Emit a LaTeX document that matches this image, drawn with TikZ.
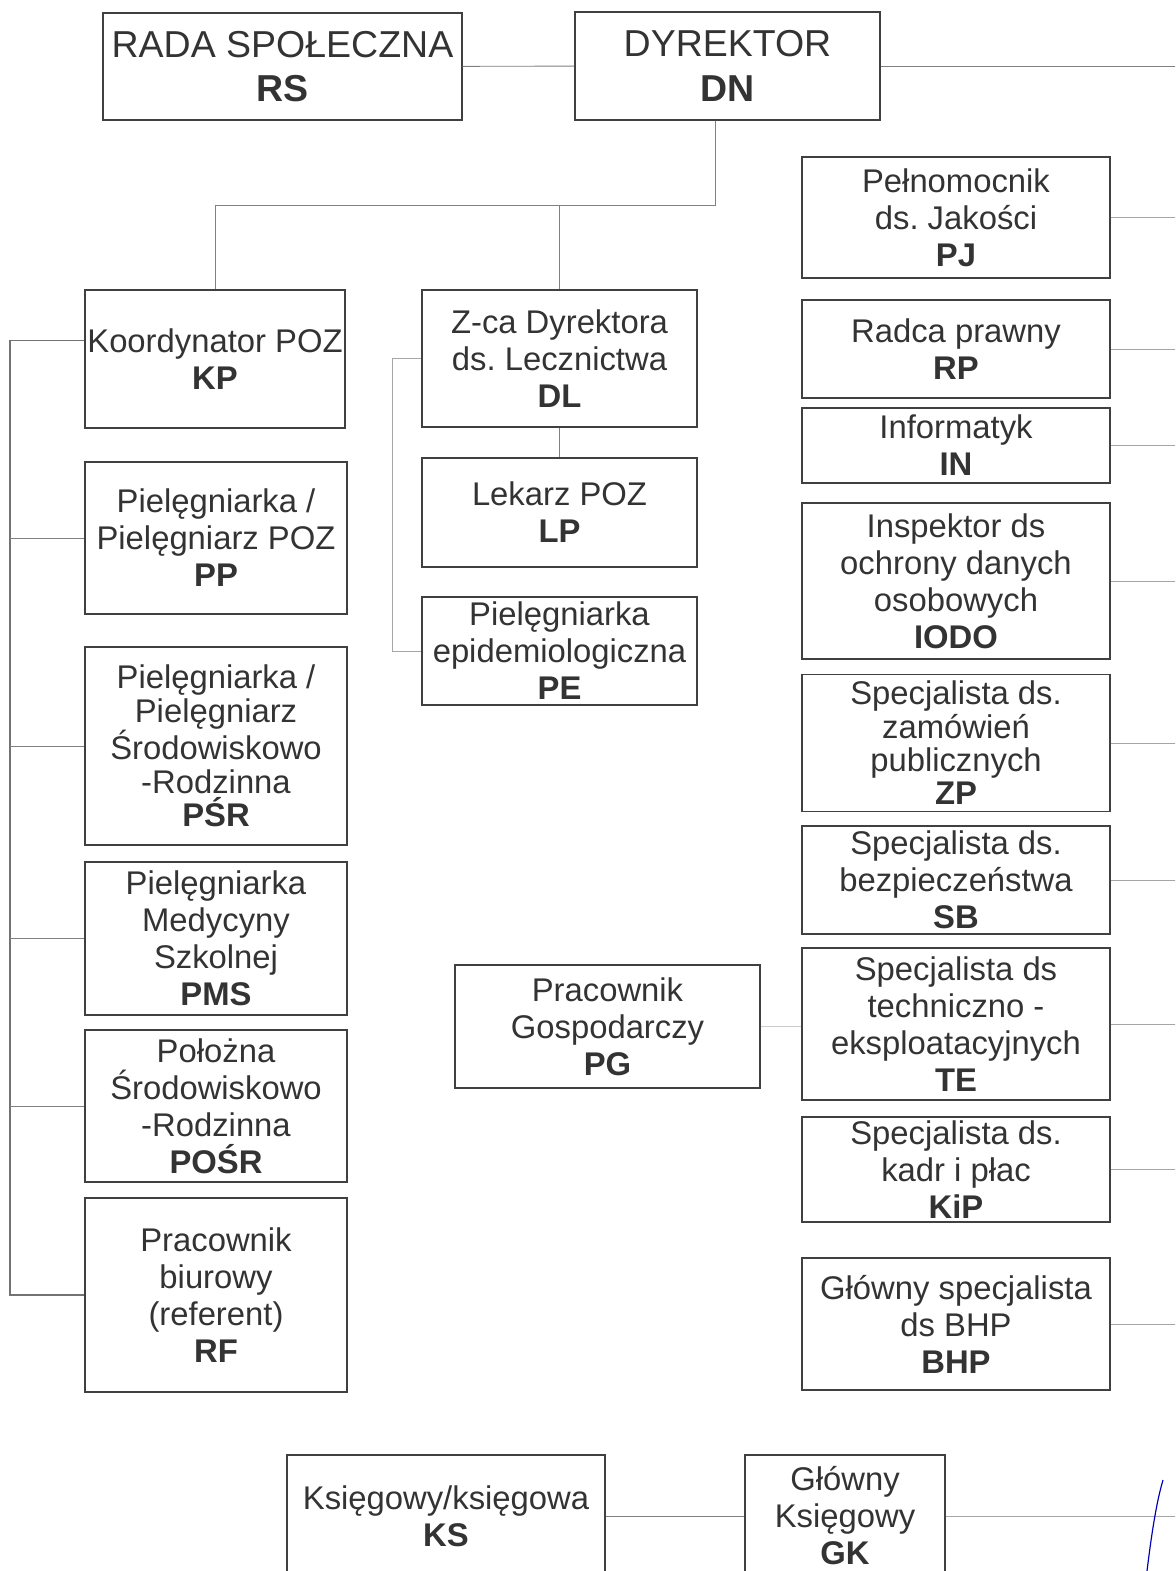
\documentclass[tikz,border=0pt]{standalone}
\usepackage{fontspec}
\setmainfont{Liberation Sans}
\usetikzlibrary{positioning}
\frenchspacing

\tikzstyle{org}=[draw=black!75, line width=0.9pt, align=center, inner sep=0pt,
    text=black!80, font=\fontsize{28}{31.6}\selectfont]
\tikzstyle{toprow}=[font=\fontsize{32}{38}\selectfont]
\tikzstyle{tight}=[font=\fontsize{28}{28.5}\selectfont]
\tikzstyle{link}=[draw=black!50, line width=0.8pt]
\tikzstyle{bus}=[draw=black!55, line width=1.2pt]
\tikzstyle{faint}=[draw=black!35, line width=0.5pt]
\tikzset{wh/.style 2 args={minimum width=#1*0.3mm, minimum height=#2*0.3mm}}
\def\colw{308}

\begin{document}
\begin{tikzpicture}[x=0.3mm, y=-0.3mm]
    \useasboundingbox (0,0) rectangle (1175,1571);
    \clip (0,0) rectangle (1175,1571);

    % top row
    \node (RS) [org, toprow, wh={359}{107}] at (282.5,66.5) {RADA SPOŁECZNA\\\textbf{RS}};
    \node (DN) [org, toprow, wh={305}{108}] at (727.5,66) {DYREKTOR\\\textbf{DN}};

    % right column
    \node (PJ) [org, wh={\colw}{121}] at (956,217.5) {Pełnomocnik\\ds. Jakości\\\textbf{PJ}};
    \node (RP) [org, wh={\colw}{98}] at (956,349) {Radca prawny\\\textbf{RP}};
    \node (IN) [org, wh={\colw}{75}] at (956,445.5) {Informatyk\\\textbf{IN}};
    \node (IODO) [org, wh={\colw}{156}] at (956,581) {Inspektor ds\\ochrony danych\\osobowych\\\textbf{IODO}};
    \node (ZP) [org, tight, wh={\colw}{137}] at (956,743) {Specjalista ds.\\zamówień\\publicznych\\\textbf{ZP}};
    \node (SB) [org, wh={\colw}{108}] at (956,880) {Specjalista ds.\\bezpieczeństwa\\\textbf{SB}};
    \node (TE) [org, wh={\colw}{152}] at (956,1024) {Specjalista ds\\techniczno -\\eksploatacyjnych\\\textbf{TE}};
    \node (KiP) [org, wh={\colw}{105}] at (956,1169.5) {Specjalista ds.\\kadr i płac\\\textbf{KiP}};
    \node (BHP) [org, wh={\colw}{132}] at (956,1324) {Główny specjalista\\ds BHP\\\textbf{BHP}};

    % left column
    \node (KP) [org, wh={260}{138}] at (215,359) {Koordynator POZ\\\textbf{KP}};
    \node (PP) [org, wh={262}{152}] at (216,538) {Pielęgniarka /\\Pielęgniarz POZ\\\textbf{PP}};
    \node (PSR) [org, tight, wh={262}{198}] at (216,746) {Pielęgniarka /\\Pielęgniarz\\Środowiskowo\\-Rodzinna\\\textbf{PŚR}};
    \node (PMS) [org, wh={262}{153}] at (216,938.5) {Pielęgniarka\\Medycyny\\Szkolnej\\\textbf{PMS}};
    \node (POSR) [org, wh={262}{152}] at (216,1106) {Położna\\Środowiskowo\\-Rodzinna\\\textbf{POŚR}};
    \node (RF) [org, wh={262}{194}] at (216,1295) {Pracownik\\biurowy\\(referent)\\\textbf{RF}};

    % middle column
    \node (DL) [org, wh={275}{137}] at (559.5,358.5) {Z-ca Dyrektora\\ds. Lecznictwa\\\textbf{DL}};
    \node (LP) [org, wh={275}{109}] at (559.5,512.5) {Lekarz POZ\\\textbf{LP}};
    \node (PE) [org, wh={275}{108}] at (559.5,651) {Pielęgniarka\\epidemiologiczna\\\textbf{PE}};
    \node (PG) [org, wh={305}{123}] at (607.5,1026.5) {Pracownik\\Gospodarczy\\\textbf{PG}};

    % bottom row
    \node (KS) [org, wh={318}{122}] at (446,1516) {Księgowy/księgowa\\\textbf{KS}};
    \node (GK) [org, wh={200}{122}] at (845,1516) {Główny\\Księgowy\\\textbf{GK}};

    \coordinate (rail) at (1200,0);
    \coordinate (lbus) at (10,0);
    \coordinate (mbus) at (392,0);
    \coordinate (split) at (715,205);

    \draw [link] (RS) -- (DN);
    \draw [link] (DN.east) -- (DN.east -| rail);
    \draw [link] (DN.south -| split) -- (split) -| (KP.north);
    \draw [link] (split) -| (DL.north);
    \draw [link] (DL) -- (LP);
    \draw [faint] (DL.west) -- (DL.west -| mbus) |- (PE.west);

    \foreach \n in {PJ,RP,IN,IODO,ZP,SB,TE,KiP,BHP}
        \draw [faint] (\n.east) -- (\n.east -| rail);

    \draw [bus] (KP.172) -- (KP.172 -| lbus) |- (RF.west);
    \foreach \n in {PP,PSR,PMS,POSR}
        \draw [link] (\n.west) -- (\n.west -| lbus);

    \draw [draw=black!20, line width=0.5pt] (PG.east) -- (PG.east -| TE.west);
    \draw [link] (KS) -- (GK);
    \draw [faint] (GK.east) -- (GK.east -| rail);

    %signature stroke
    \draw [blue!70!black, line width=1pt] (1147,1571) .. controls (1152,1530) and (1157,1500) .. (1163,1480);
\end{tikzpicture}
\end{document}
